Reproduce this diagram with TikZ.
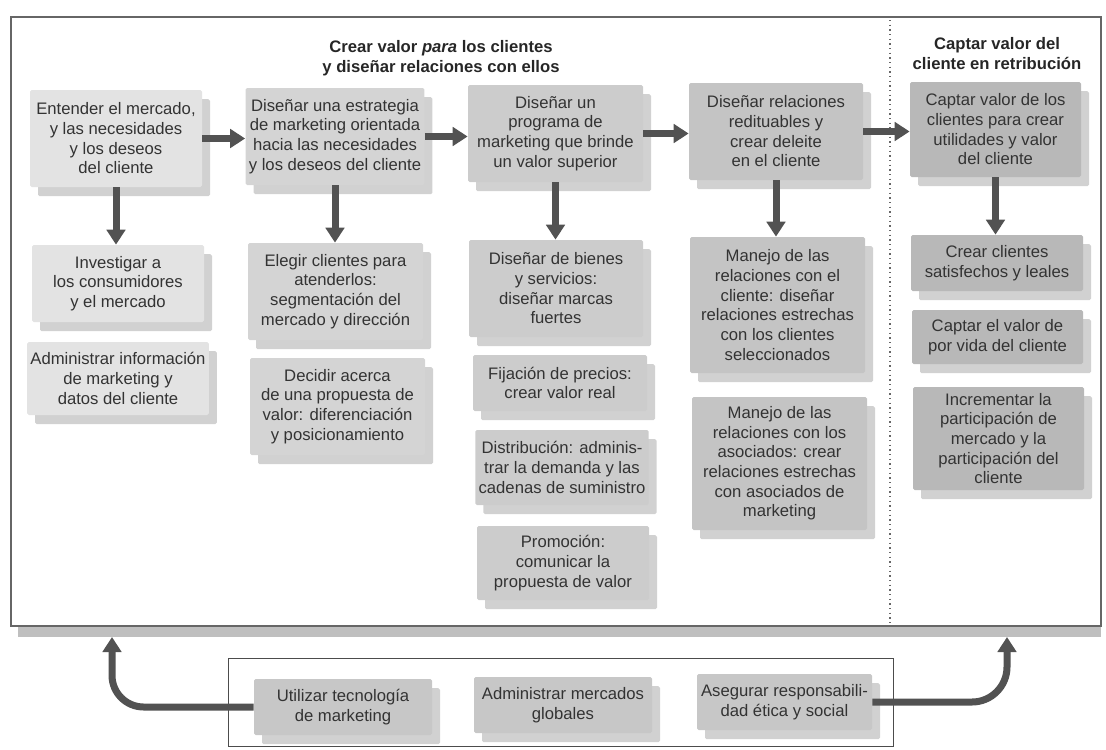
\documentclass[tikz,border=0pt]{standalone}
\usepackage{fontspec}
\setmainfont{Liberation Sans}
\usepackage{tikz}
\usetikzlibrary{arrows.meta,shadows}
\tikzstyle{box}=[rectangle,rounded corners=1pt,align=center,inner sep=2pt,text=black!80,
  font=\fontsize{10}{11.8}\selectfont,
  drop shadow={shadow xshift=4.8pt,shadow yshift=-5.5pt,fill=black!18,opacity=1}]
\tikzstyle{box one}=[box,fill=black!11]
\tikzstyle{box two}=[box,fill=black!17]
\tikzstyle{box three}=[box,fill=black!20]
\tikzstyle{box four}=[box,fill=black!23]
\tikzstyle{box five}=[box,fill=black!28]
\tikzstyle{box base}=[box,fill=black!22]
\tikzstyle{bw}=[minimum width=#1*0.6pt]
\tikzstyle{bh}=[minimum height=#1*0.6pt]
\tikzstyle{heading}=[align=center,text=black!85,font=\bfseries\fontsize{10}{12}\selectfont]
\tikzstyle{flow}=[draw=black!68,line width=4.2pt,-{Triangle[width=11pt,length=9pt]}]
\tikzstyle{frame}=[draw=black!60,line width=0.7pt]

\begin{document}
\begin{tikzpicture}[x=0.6pt,y=-0.6pt]
        \useasboundingbox (0,0) rectangle (1106,749);
        % outer frames
        \fill[black!25] (18,626) rectangle (1101,637);
        \draw[frame] (11,17) rectangle (1101,626);
        \draw[black!60,line width=0.8pt,dotted] (890,20) -- (890,624);
        \draw[black!70,line width=0.6pt] (228,658) rectangle (893,746);
        \node[heading] (title) at (441,58) {Crear valor \textit{para} los clientes\\y diseñar relaciones con ellos};
        \node[heading] (titleR) at (997,54) {Captar valor del\\cliente en retribución};
        % top row
        \node[box one,bw=172,bh=97] (understand) at (116,138.5) {Entender el mercado,\\y las necesidades\\y los deseos\\del cliente};
        \node[box two,bw=176,bh=97] (strategy) at (335,136.5) {Diseñar una estrategia\\de marketing orientada\\hacia las necesidades\\y los deseos del cliente};
        \node[box three,bw=175,bh=97] (program) at (555.5,133.5) {Diseñar un\\programa de\\marketing que brinde\\un valor superior};
        \node[box four,bw=174,bh=97] (relate) at (776,131.5) {Diseñar relaciones\\redituables y\\crear deleite\\en el cliente};
        \node[box five,bw=171,bh=95] (capture) at (995.5,129.5) {Captar valor de los\\clientes para crear\\utilidades y valor\\del cliente};
        % column 1
        \node[box one,bw=172,bh=77] (research) at (118,283.5) {Investigar a\\los consumidores\\y el mercado};
        \node[box one,bw=172,bh=73] (info) at (118,378.5) {Administrar información\\de marketing y\\datos del cliente};
        % column 2
        \node[box two,bw=175,bh=97] (choose) at (335.5,291.5) {Elegir clientes para\\atenderlos:\\segmentación del\\mercado y dirección};
        \node[box two,bw=175,bh=97] (decide) at (337.5,406.5) {Decidir acerca\\de una propuesta de\\valor: diferenciación\\y posicionamiento};
        % column 3
        \node[box three,bw=174,bh=97] (goods) at (556,288.5) {Diseñar de bienes\\y servicios:\\diseñar marcas\\fuertes};
        \node[box three,bw=174,bh=56] (pricing) at (560,383) {Fijación de precios:\\crear valor real};
        \node[box three,bw=172,bh=75] (distrib) at (562,467.5) {Distribución: adminis-\\trar la demanda y las\\cadenas de suministro};
        \node[box three,bw=172,bh=74] (promo) at (563,563) {Promoción:\\comunicar la\\propuesta de valor};
        % column 4
        \node[box four,bw=175,bh=136] (crm) at (777.5,305) {Manejo de las\\relaciones con el\\cliente: diseñar\\relaciones estrechas\\con los clientes\\seleccionados};
        \node[box four,bw=175,bh=133] (prm) at (779.5,463.5) {Manejo de las\\relaciones con los\\asociados: crear\\relaciones estrechas\\con asociados de\\marketing};
        % column 5
        \node[box five,bw=172,bh=56] (loyal) at (997,263) {Crear clientes\\satisfechos y leales};
        \node[box five,bw=171,bh=54] (lifetime) at (997.5,337) {Captar el valor de\\por vida del cliente};
        \node[box five,bw=171,bh=103] (share) at (998.5,438.5) {Incrementar la\\participación de\\mercado y la\\participación del\\cliente};
        % bottom row
        \node[box base,bw=178,bh=56] (tech) at (343,707) {Utilizar tecnología\\de marketing};
        \node[box base,bw=178,bh=56] (global) at (563,705) {Administrar mercados\\globales};
        \node[box base,bw=175,bh=56] (ethics) at (784.5,702) {Asegurar responsabili-\\dad ética y social};
        \coordinate (leftTip) at (112,637);
        \coordinate (rightTip) at (1007,637);
        % arrows
        \draw[flow] (understand.east) -- (understand.east -| strategy.west);
        \draw[flow] (strategy.east) -- (strategy.east -| program.west);
        \draw[flow] (program.east) -- (program.east -| relate.west);
        \draw[flow] (relate.east) -- (relate.east -| capture.west);
        \draw[flow] (understand.south) -- (understand.south |- research.north);
        \draw[flow] (strategy.south) -- (strategy.south |- choose.north);
        \draw[flow] (program.south) -- (program.south |- goods.north);
        \draw[flow] (relate.south) -- (relate.south |- crm.north);
        \draw[flow] (capture.south) -- (capture.south |- loyal.north);
        \draw[flow,rounded corners=19pt] (tech.west) -- (tech.west -| leftTip) -- (leftTip);
        \draw[flow,rounded corners=21pt] (ethics.east) -- (ethics.east -| rightTip) -- (rightTip);
      \end{tikzpicture}
\end{document}
